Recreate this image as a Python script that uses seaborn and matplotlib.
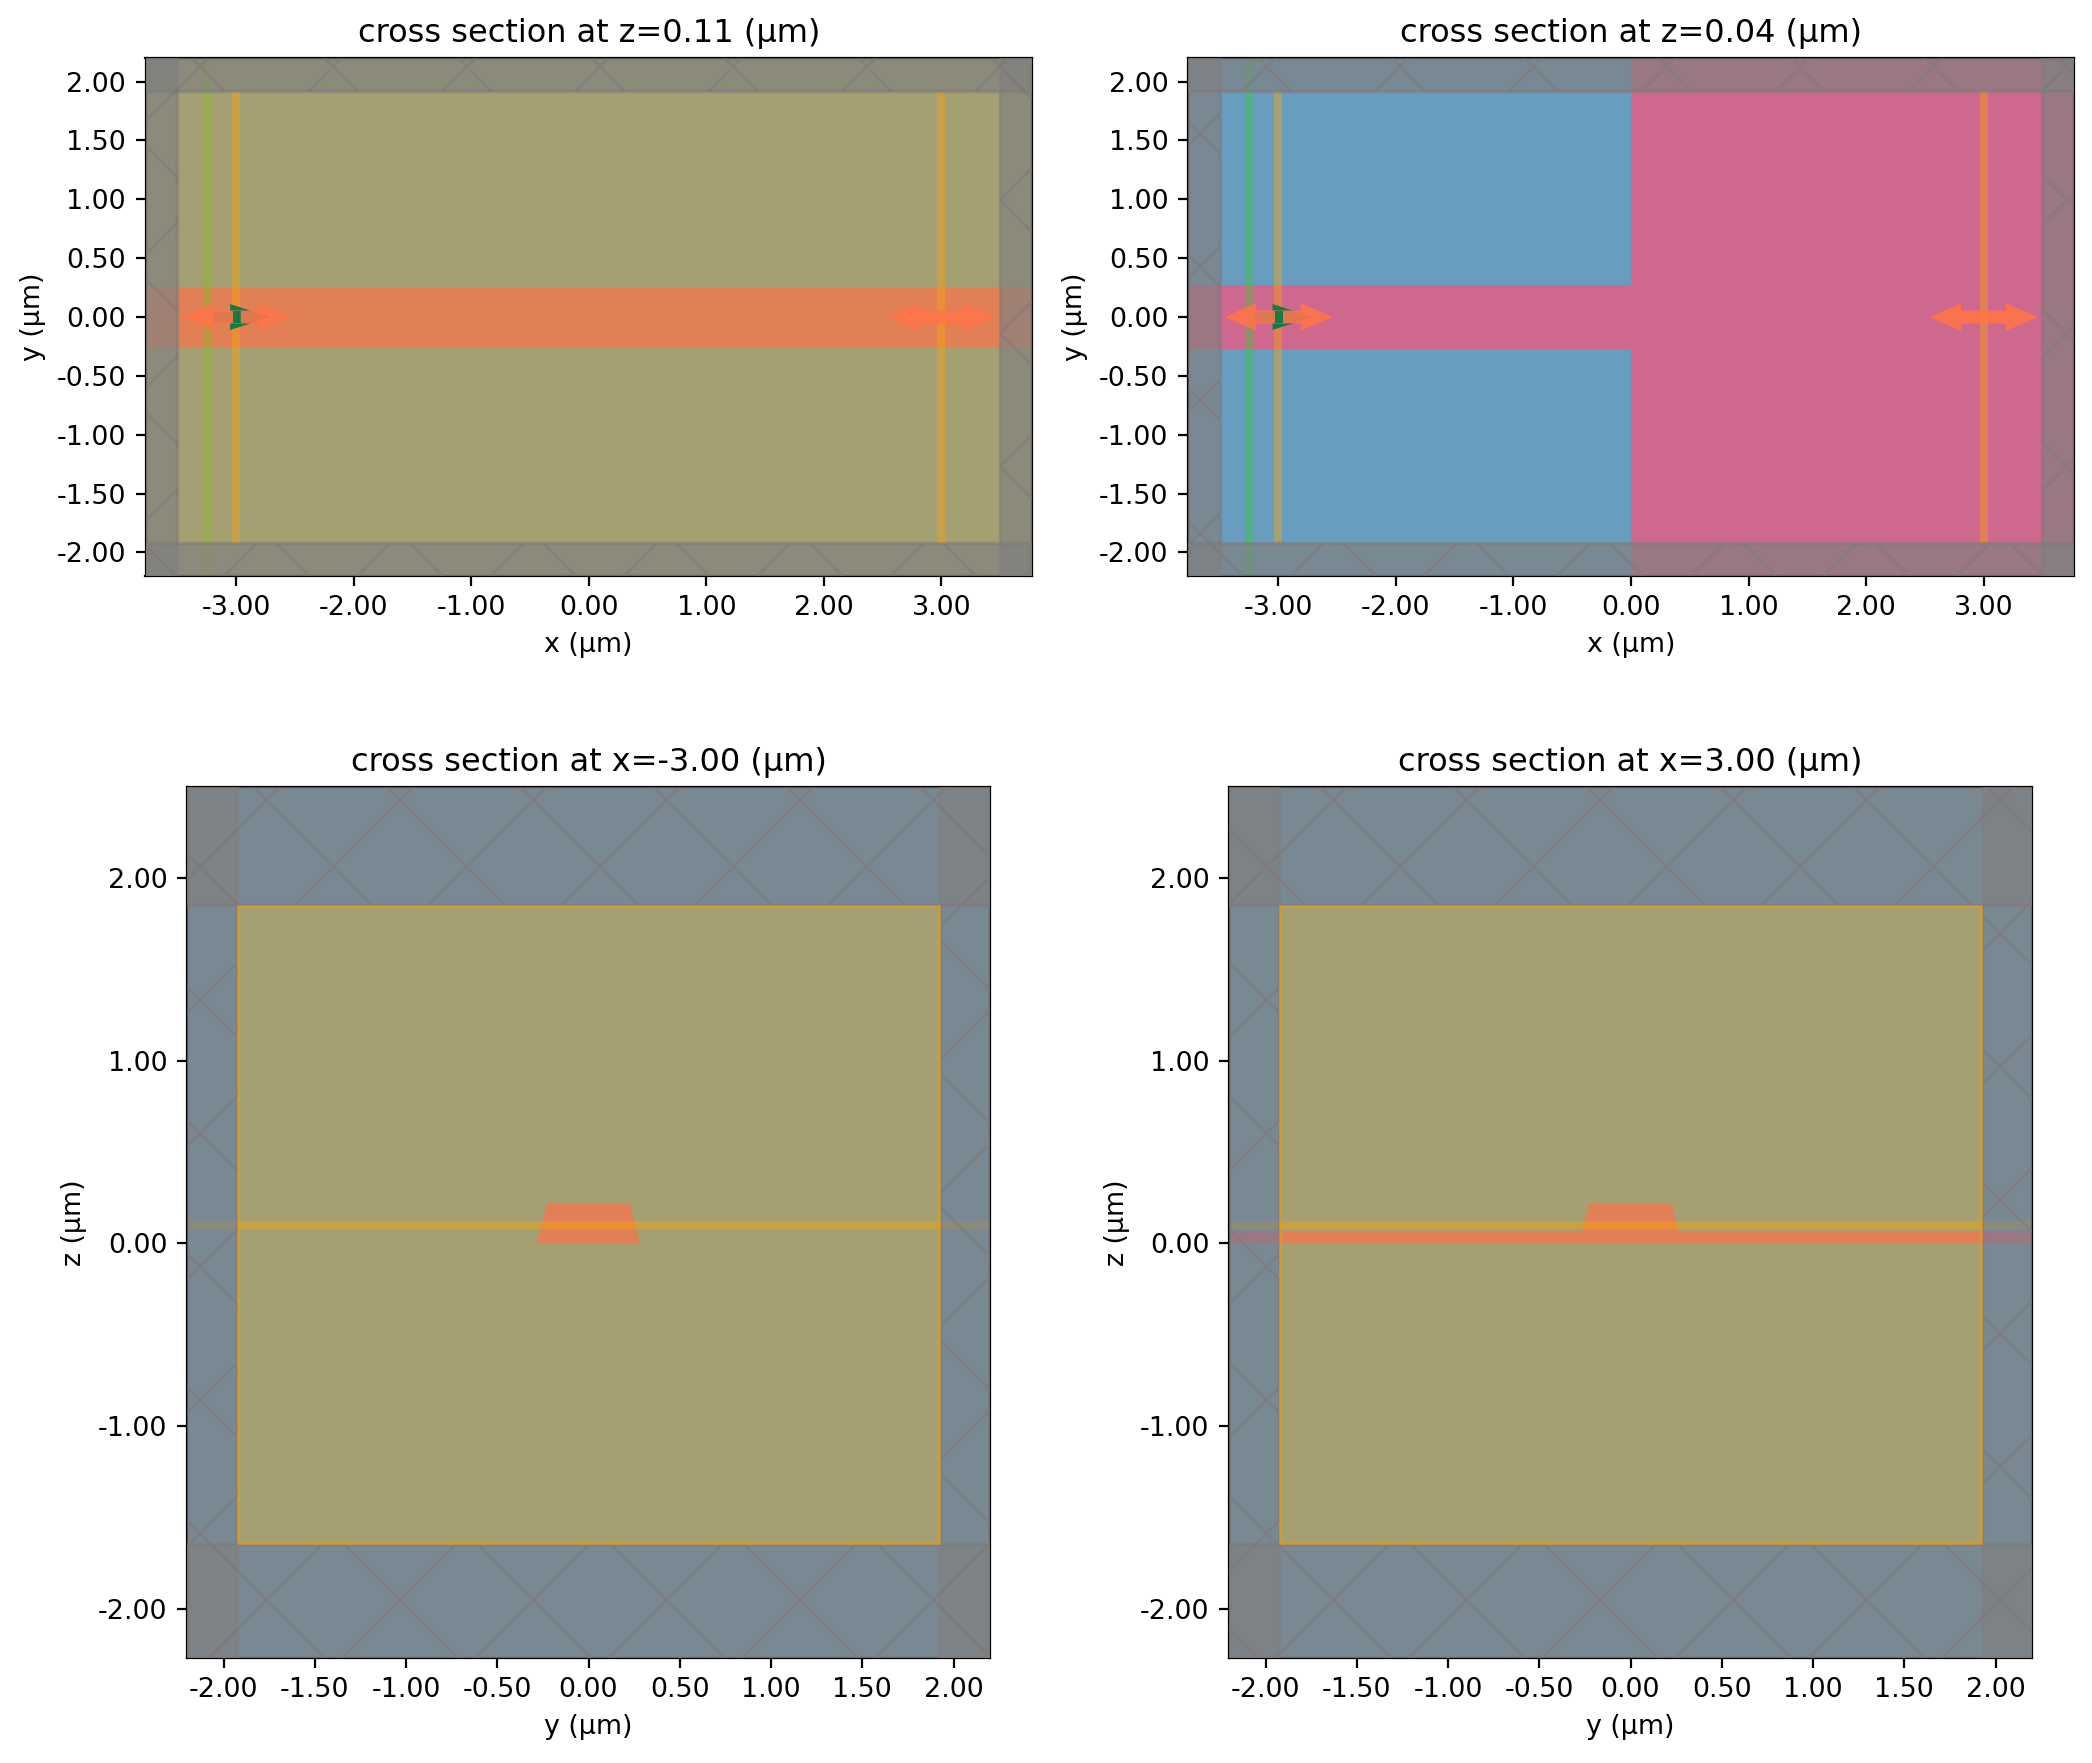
#!/usr/bin/env python3

import matplotlib
matplotlib.use('Agg')
import matplotlib.pyplot as plt
from matplotlib.patches import Rectangle, Polygon
from matplotlib.ticker import FormatStrFormatter
import seaborn as sns

W, H = 2092, 1763
DPI = 400

x_lim = [-3.77, 3.77]
y_lim = [-2.2, 2.2]
z_lim = [-2.27, 2.5]
x_ticks = [-3, -2, -1, 0, 1, 2, 3]
y_ticks = [-2, -1.5, -1, -0.5, 0, 0.5, 1, 1.5, 2]
z_ticks = [-2, -1, 0, 1, 2]

sim_x = [-3.5, 3.5]
sim_y = [-1.92, 1.92]
sim_z = [-1.64, 1.85]
source_x = -3.25
monitor_x = [-3.0, 3.0]
field_z = 0.104
slab_z = [0.0, 0.07]
wg_z = [0.0, 0.22]
wg_bottom = 0.282
wg_top = 0.225
wg_half_011 = 0.252
wg_half_004 = 0.275

titles = ['cross section at z=0.11 (µm)', 'cross section at z=0.04 (µm)',
	'cross section at x=-3.00 (µm)', 'cross section at x=3.00 (µm)']
boxes = [(145.5, 58, 1032, 576), (1188, 58, 2074, 576),
	(187, 787, 990, 1658), (1229, 787, 2032, 1658)]

BLUE = '#689DBF'
PINK = '#CE688F'
ORANGE = (1.0, 0.647, 0.0, 0.4)
GREEN = (0.196, 0.804, 0.196, 0.4)
PML_FACE = (0.5, 0.5, 0.5, 0.68)
PML_EDGE = (0.5, 0.47, 0.47, 0.5)
CORAL = '#FF7548'
DARK = '#E0784F'
DARK_GREEN = '#157A45'
BAR = 1.44

def fill(ax, x0, x1, y0, y1, color):
	ax.add_patch(Rectangle((x0, y0), x1 - x0, y1 - y0, facecolor=color, edgecolor='none'))

def pml(ax, lo_a, hi_a, lo_b, hi_b):
	xa, xb = ax.get_xlim()
	ya, yb = ax.get_ylim()
	for r in [(xa, ya, lo_a - xa, yb - ya), (hi_a, ya, xb - hi_a, yb - ya),
			(xa, ya, xb - xa, lo_b - ya), (xa, hi_b, xb - xa, yb - hi_b)]:
		ax.add_patch(Rectangle(r[:2], r[2], r[3], facecolor=PML_FACE,
			edgecolor=PML_EDGE, linewidth=0.6, hatch='x', zorder=5))

def double_arrow(ax, x, half, zorder=6):
	for sign in (-1, 1):
		ax.arrow(x, 0, sign * half, 0, width=0.11, head_width=0.235, head_length=0.27,
			length_includes_head=True, facecolor=CORAL, edgecolor='none', alpha=0.9, zorder=zorder)

def source_glyph(ax):
	ax.arrow(-3.05, 0, 0.34, 0, width=0.05, head_width=0.22, head_length=0.34,
		length_includes_head=True, facecolor=DARK_GREEN, edgecolor='none', zorder=5.5)
	double_arrow(ax, monitor_x[0], 0.46)
	# the gap in the shaft lets the green show through
	ax.add_patch(Rectangle((-3.03, -0.055), 0.07, 0.11, facecolor=DARK_GREEN, edgecolor='none', zorder=6.5))
	ax.add_patch(Rectangle((-3.2, -0.04), 0.17, 0.08, facecolor=DARK, edgecolor='none', zorder=7))
	ax.arrow(-2.96, 0, 0.17, 0, width=0.08, head_width=0.08, head_length=0.07,
		length_includes_head=True, facecolor=DARK, edgecolor='none', zorder=7)

def plan_view(ax, slab):
	ax.set_xlim(x_lim)
	ax.set_ylim(y_lim)
	fill(ax, x_lim[0], x_lim[1], y_lim[0], y_lim[1], BLUE)
	if slab:
		fill(ax, x_lim[0], 0, -wg_half_004, wg_half_004, PINK)
		fill(ax, 0, x_lim[1], y_lim[0], y_lim[1], PINK)
	else:
		fill(ax, x_lim[0], x_lim[1], -wg_half_011, wg_half_011, PINK)
	# source sits under the z monitor wash
	ax.axvline(source_x, color=GREEN, lw=BAR, solid_capstyle='butt', zorder=1)
	if not slab:
		fill(ax, x_lim[0], x_lim[1], y_lim[0], y_lim[1], ORANGE)
	for mx in monitor_x:
		ax.vlines(mx, sim_y[0], sim_y[1], color=[ORANGE], lw=BAR, capstyle='butt')
	pml(ax, sim_x[0], sim_x[1], sim_y[0], sim_y[1])
	source_glyph(ax)
	double_arrow(ax, monitor_x[1], 0.46)
	ax.set_xticks(x_ticks)
	ax.set_yticks(y_ticks)
	ax.set_xlabel('x (µm)')
	ax.set_ylabel('y (µm)')

def side_view(ax, slab):
	ax.set_xlim(y_lim)
	ax.set_ylim(z_lim)
	fill(ax, y_lim[0], y_lim[1], z_lim[0], z_lim[1], BLUE)
	if slab:
		fill(ax, y_lim[0], y_lim[1], slab_z[0], slab_z[1], PINK)
	ax.add_patch(Polygon([(-wg_bottom, wg_z[0]), (wg_bottom, wg_z[0]), (wg_top, wg_z[1]), (-wg_top, wg_z[1])],
		facecolor=PINK, edgecolor='none'))
	ax.add_patch(Rectangle((sim_y[0], sim_z[0]), sim_y[1] - sim_y[0], sim_z[1] - sim_z[0], facecolor=ORANGE, edgecolor='none'))
	ax.axhline(field_z, color=ORANGE, lw=BAR, solid_capstyle='butt')
	pml(ax, sim_y[0] - 0.005, sim_y[1] + 0.005, sim_z[0] - 0.005, sim_z[1] + 0.005)
	ax.add_patch(Rectangle((sim_y[0], sim_z[0]), sim_y[1] - sim_y[0], sim_z[1] - sim_z[0], facecolor='none',
		edgecolor=(1.0, 0.647, 0.0, 0.6), linewidth=0.45, zorder=6))
	ax.set_xticks(y_ticks)
	ax.set_yticks(z_ticks)
	ax.set_xlabel('y (µm)')
	ax.set_ylabel('z (µm)')

def main():
	sns.set_theme(style='ticks', rc={
		'font.family': ['DejaVu Sans'],
		'font.size': 4.85,
		'axes.titlesize': 5.77,
		'axes.labelsize': 4.85,
		'xtick.labelsize': 4.85,
		'ytick.labelsize': 4.85,
		'axes.linewidth': 0.4,
		'axes.edgecolor': 'black',
		'xtick.major.size': 1.75,
		'ytick.major.size': 1.75,
		'xtick.major.width': 0.4,
		'ytick.major.width': 0.4,
		'xtick.major.pad': 1.75,
		'ytick.major.pad': 1.75,
		'axes.titlepad': 2.8,
		'axes.labelpad': 1.9,
		'hatch.linewidth': 0.55,
		'text.color': 'black',
		'axes.labelcolor': 'black',
		'xtick.color': 'black',
		'ytick.color': 'black',
	})

	fig = plt.figure(figsize=(W / DPI, H / DPI), dpi=DPI)
	for i, (left, top, right, bottom) in enumerate(boxes):
		ax = fig.add_axes([left / W, 1 - bottom / H, (right - left) / W, (bottom - top) / H])
		if i < 2:
			plan_view(ax, i == 1)
		else:
			side_view(ax, i == 3)
		ax.set_title(titles[i])
		ax.xaxis.set_major_formatter(FormatStrFormatter('%.2f'))
		ax.yaxis.set_major_formatter(FormatStrFormatter('%.2f'))

	fig.savefig('out.png', dpi=DPI)

if __name__ == '__main__':
	main()
